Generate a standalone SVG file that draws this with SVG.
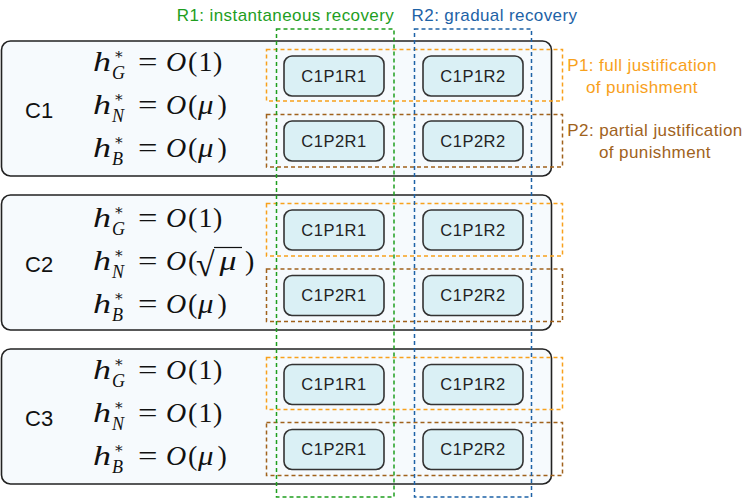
<svg xmlns="http://www.w3.org/2000/svg" width="747" height="499" viewBox="0 0 747 499">
<style>
.case{fill:#f6fafd;stroke:#222;stroke-width:1.6}
.node rect{fill:#daf0f5;stroke:#333;stroke-width:1.6}
.lbl{font-family:"Liberation Sans",Arial,sans-serif;font-size:16.5px;letter-spacing:0.5px;fill:#222;text-anchor:middle}
.cl{font-family:"Liberation Sans",Arial,sans-serif;font-size:22px;fill:#111}
.m{font-family:"Liberation Serif","DejaVu Serif",serif;font-size:28px;fill:#111}
.i{font-style:italic}
.ss{font-family:"Liberation Serif","DejaVu Serif",serif;fill:#111}
.sb{font-size:18px;font-style:italic}
.sp{font-size:15px}
.rad{font-family:"Liberation Serif","DejaVu Serif",serif;font-size:34px;fill:#111}
.dash{fill:none;stroke-width:1.5;stroke-dasharray:4 3}
.p1{stroke:#f8a11c}.p2{stroke:#a0621c}.r1{stroke:#1e9e1e}.r2{stroke:#1d62a6}
.t{font-family:"Liberation Sans",Arial,sans-serif;font-size:17px;letter-spacing:0.4px}
</style>

<g id="C1">
<rect class="case" x="1.5" y="41" width="550" height="135" rx="9"/>
<text class="cl" x="25" y="117.5">C1</text>
<text class="m i" x="93" y="71" textLength="18" lengthAdjust="spacingAndGlyphs">h</text>
<text class="ss sp" x="113.5" y="59">∗</text><text class="ss sb" x="112" y="79">G</text>
<text class="m" x="138" y="71" textLength="19.5" lengthAdjust="spacingAndGlyphs">=</text>
<text class="m i" x="166" y="71">O</text><text class="m" x="188" y="71">(</text><text class="m" x="198.5" y="71">1</text><text class="m" x="213" y="71">)</text>
<text class="m i" x="93" y="114" textLength="18" lengthAdjust="spacingAndGlyphs">h</text>
<text class="ss sp" x="113.5" y="102">∗</text><text class="ss sb" x="112" y="122">N</text>
<text class="m" x="138" y="114" textLength="19.5" lengthAdjust="spacingAndGlyphs">=</text>
<text class="m i" x="166" y="114">O</text><text class="m" x="188" y="114">(</text><text class="m i" x="198" y="114" textLength="15.5" lengthAdjust="spacingAndGlyphs">μ</text><text class="m" x="217.5" y="114">)</text>
<text class="m i" x="93" y="157" textLength="18" lengthAdjust="spacingAndGlyphs">h</text>
<text class="ss sp" x="113.5" y="145">∗</text><text class="ss sb" x="112" y="165">B</text>
<text class="m" x="138" y="157" textLength="19.5" lengthAdjust="spacingAndGlyphs">=</text>
<text class="m i" x="166" y="157">O</text><text class="m" x="188" y="157">(</text><text class="m i" x="198" y="157" textLength="15.5" lengthAdjust="spacingAndGlyphs">μ</text><text class="m" x="217.5" y="157">)</text>
</g>

<g id="C2">
<rect class="case" x="1.5" y="195" width="550" height="135" rx="9"/>
<text class="cl" x="25" y="272">C2</text>
<text class="m i" x="93" y="227" textLength="18" lengthAdjust="spacingAndGlyphs">h</text>
<text class="ss sp" x="113.5" y="215">∗</text><text class="ss sb" x="112" y="235">G</text>
<text class="m" x="138" y="227" textLength="19.5" lengthAdjust="spacingAndGlyphs">=</text>
<text class="m i" x="166" y="227">O</text><text class="m" x="188" y="227">(</text><text class="m" x="198.5" y="227">1</text><text class="m" x="213" y="227">)</text>
<text class="m i" x="93" y="270" textLength="18" lengthAdjust="spacingAndGlyphs">h</text>
<text class="ss sp" x="113.5" y="258">∗</text><text class="ss sb" x="112" y="278">N</text>
<text class="m" x="138" y="270" textLength="19.5" lengthAdjust="spacingAndGlyphs">=</text>
<text class="m i" x="166" y="270">O</text><text class="m" x="188" y="270">(</text>
<text class="rad" x="196" y="276">√</text>
<line x1="214" y1="247.5" x2="242" y2="247.5" stroke="#111" stroke-width="1.2"/>
<text class="m i" x="219.5" y="270" textLength="17" lengthAdjust="spacingAndGlyphs">μ</text><text class="m" x="245" y="270">)</text>
<text class="m i" x="93" y="313" textLength="18" lengthAdjust="spacingAndGlyphs">h</text>
<text class="ss sp" x="113.5" y="301">∗</text><text class="ss sb" x="112" y="321">B</text>
<text class="m" x="138" y="313" textLength="19.5" lengthAdjust="spacingAndGlyphs">=</text>
<text class="m i" x="166" y="313">O</text><text class="m" x="188" y="313">(</text><text class="m i" x="198" y="313" textLength="15.5" lengthAdjust="spacingAndGlyphs">μ</text><text class="m" x="217.5" y="313">)</text>
</g>

<g id="C3">
<rect class="case" x="1.5" y="349" width="550" height="135" rx="9"/>
<text class="cl" x="25" y="426">C3</text>
<text class="m i" x="93" y="379" textLength="18" lengthAdjust="spacingAndGlyphs">h</text>
<text class="ss sp" x="113.5" y="367">∗</text><text class="ss sb" x="112" y="387">G</text>
<text class="m" x="138" y="379" textLength="19.5" lengthAdjust="spacingAndGlyphs">=</text>
<text class="m i" x="166" y="379">O</text><text class="m" x="188" y="379">(</text><text class="m" x="198.5" y="379">1</text><text class="m" x="213" y="379">)</text>
<text class="m i" x="93" y="422" textLength="18" lengthAdjust="spacingAndGlyphs">h</text>
<text class="ss sp" x="113.5" y="410">∗</text><text class="ss sb" x="112" y="430">N</text>
<text class="m" x="138" y="422" textLength="19.5" lengthAdjust="spacingAndGlyphs">=</text>
<text class="m i" x="166" y="422">O</text><text class="m" x="188" y="422">(</text><text class="m" x="198.5" y="422">1</text><text class="m" x="213" y="422">)</text>
<text class="m i" x="93" y="465" textLength="18" lengthAdjust="spacingAndGlyphs">h</text>
<text class="ss sp" x="113.5" y="453">∗</text><text class="ss sb" x="112" y="473">B</text>
<text class="m" x="138" y="465" textLength="19.5" lengthAdjust="spacingAndGlyphs">=</text>
<text class="m i" x="166" y="465">O</text><text class="m" x="188" y="465">(</text><text class="m i" x="198" y="465" textLength="15.5" lengthAdjust="spacingAndGlyphs">μ</text><text class="m" x="217.5" y="465">)</text>
</g>

<g id="P1">
<rect class="dash p1" x="266.5" y="49.5" width="296" height="51.5"/>
<rect class="dash p1" x="266.5" y="203.5" width="296" height="52.5"/>
<rect class="dash p1" x="266.5" y="357.5" width="296" height="52"/>
<text class="t" fill="#f8a11c" x="642" y="70.5" text-anchor="middle">P1: full justification</text>
<text class="t" fill="#f8a11c" x="642" y="92.5" text-anchor="middle">of punishment</text>
</g>
<g id="P2">
<rect class="dash p2" x="266.5" y="114.5" width="296" height="52.5"/>
<rect class="dash p2" x="266.5" y="269" width="296" height="52.5"/>
<rect class="dash p2" x="266.5" y="422.5" width="296" height="53"/>
<text class="t" fill="#a0621c" x="655" y="135.5" text-anchor="middle">P2: partial justification</text>
<text class="t" fill="#a0621c" x="655" y="157.5" text-anchor="middle">of punishment</text>
</g>

<g id="R1">
<rect class="dash r1" x="276.5" y="29" width="117.5" height="468"/>
<text class="t" fill="#1e9e1e" x="285.5" y="20.5" text-anchor="middle">R1: instantaneous recovery</text>
</g>
<g id="R2">
<rect class="dash r2" x="414.5" y="29" width="117" height="468"/>
<text class="t" fill="#1d62a6" x="494.5" y="20.5" text-anchor="middle">R2: gradual recovery</text>
</g>

<g id="n-c1-p1r1" class="node"><rect x="284" y="56" width="100" height="40" rx="8"/><text class="lbl" x="334" y="81.5">C1P1R1</text></g>
<g id="n-c1-p1r2" class="node"><rect x="423" y="56" width="100" height="40" rx="8"/><text class="lbl" x="473" y="81.5">C1P1R2</text></g>
<g id="n-c1-p2r1" class="node"><rect x="284" y="121" width="100" height="40" rx="8"/><text class="lbl" x="334" y="146.5">C1P2R1</text></g>
<g id="n-c1-p2r2" class="node"><rect x="423" y="121" width="100" height="40" rx="8"/><text class="lbl" x="473" y="146.5">C1P2R2</text></g>

<g id="n-c2-p1r1" class="node"><rect x="284" y="210" width="100" height="40" rx="8"/><text class="lbl" x="334" y="235.5">C1P1R1</text></g>
<g id="n-c2-p1r2" class="node"><rect x="423" y="210" width="100" height="40" rx="8"/><text class="lbl" x="473" y="235.5">C1P1R2</text></g>
<g id="n-c2-p2r1" class="node"><rect x="284" y="275.5" width="100" height="40" rx="8"/><text class="lbl" x="334" y="301">C1P2R1</text></g>
<g id="n-c2-p2r2" class="node"><rect x="423" y="275.5" width="100" height="40" rx="8"/><text class="lbl" x="473" y="301">C1P2R2</text></g>

<g id="n-c3-p1r1" class="node"><rect x="284" y="364.5" width="100" height="40" rx="8"/><text class="lbl" x="334" y="390">C1P1R1</text></g>
<g id="n-c3-p1r2" class="node"><rect x="423" y="364.5" width="100" height="40" rx="8"/><text class="lbl" x="473" y="390">C1P1R2</text></g>
<g id="n-c3-p2r1" class="node"><rect x="284" y="429.5" width="100" height="40" rx="8"/><text class="lbl" x="334" y="455">C1P2R1</text></g>
<g id="n-c3-p2r2" class="node"><rect x="423" y="429.5" width="100" height="40" rx="8"/><text class="lbl" x="473" y="455">C1P2R2</text></g>

<g id="connectors"></g>
</svg>
